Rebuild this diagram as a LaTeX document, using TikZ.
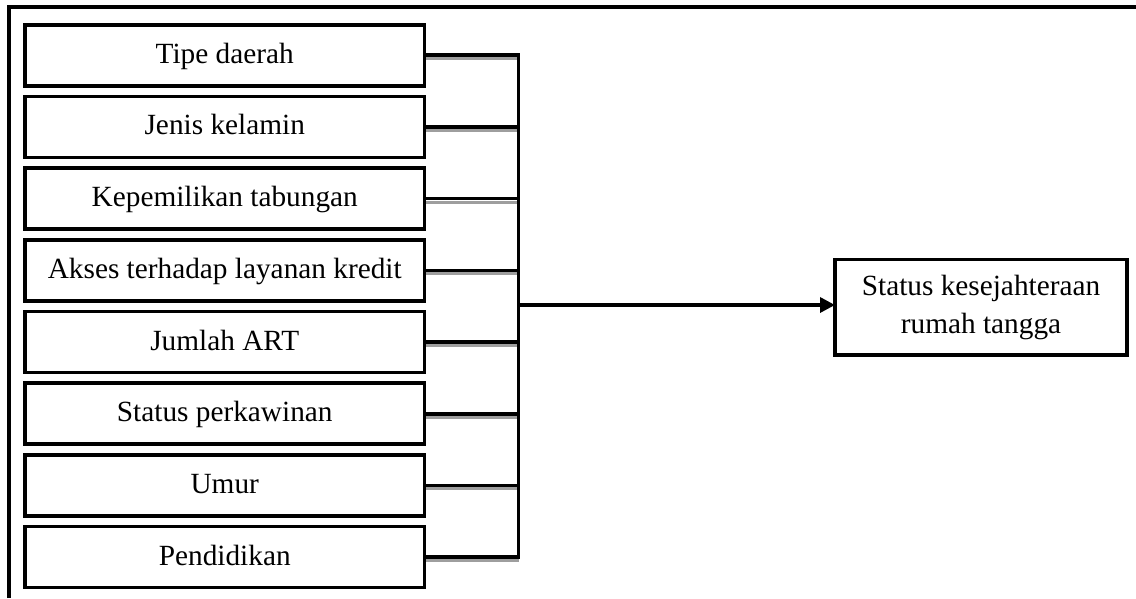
\documentclass[tikz,border=0pt]{standalone}
\usepackage{fontspec}
\setmainfont{Liberation Serif}
\usetikzlibrary{arrows.meta}
\begin{document}
\begin{tikzpicture}[x=1pt,y=-1pt,
  varbox/.style={draw,line width=3.6pt,minimum width=399.5pt,minimum height=61pt,
    inner sep=0pt,outer sep=0pt,font=\fontsize{29.3}{35}\selectfont,
    text height=21pt,text depth=5pt},
  outbox/.style={draw,line width=3.6pt,minimum width=292pt,minimum height=95.5pt,
    inner sep=0pt,outer sep=0pt,align=center,font=\fontsize{29.3}{38}\selectfont},
  conn/.style={line width=3.6pt},
  shade/.style={line width=3pt,color=black!38}]
\useasboundingbox (0,0) rectangle (1136,598);
% outer frame
\coordinate (fa) at (9,598);
\coordinate (fb) at (9,7);
\coordinate (fc) at (1136,7);
\draw[line width=4pt] (fa) -- (fb) -- (fc);
% variable boxes
\foreach \t [count=\i from 0] in {Tipe daerah,Jenis kelamin,Kepemilikan tabungan,Akses terhadap layanan kredit,Jumlah ART,Status perkawinan,Umur,Pendidikan}{
  \node[varbox] (b\i) at (224.75,{55.2+71.7*\i}) {\t};
}
\coordinate (vtop) at (518.5,55.2);
\coordinate (vbot) at (518.5,557.1);
\foreach \i in {0,...,7}{
  \draw[shade] ([yshift=-3.4pt,xshift=1.8pt]b\i.east) -- ([yshift=-3.4pt]b\i.east -| vtop);
  \draw[conn] (b\i.east) -- (b\i.east -| vtop);
}
\draw[conn] ([yshift=1.8pt]vtop) -- ([yshift=-1.8pt]vbot);
% outcome
\node[outbox] (y) at (981,307.2) {Status kesejahteraan\\rumah tangga};
\coordinate (j) at (518.5,305);
\draw[line width=3.4pt,-{Triangle[length=15pt,width=15pt]}] (j) -- (j -| y.west);
\end{tikzpicture}
\end{document}
